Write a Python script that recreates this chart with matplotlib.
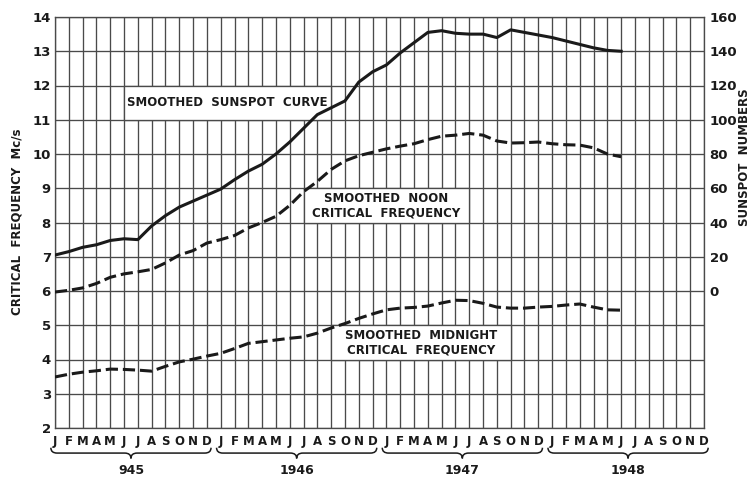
import numpy as np
import matplotlib.pyplot as plt
from matplotlib.path import Path
from matplotlib.patches import PathPatch, Rectangle
from matplotlib.transforms import blended_transform_factory

plt.rcParams['font.family'] = 'DejaVu Sans'
plt.rcParams['font.weight'] = 'bold'

# monthly smoothed values, Jan 1945 .. Jun 1948
month_letters = ['J', 'F', 'M', 'A', 'M', 'J', 'J', 'A', 'S', 'O', 'N', 'D']
years = ['945', '1946', '1947', '1948']

sunspots = [21, 23, 25.5, 27, 29.5, 30.5, 30, 38, 44, 49, 52.5, 56,
            59.5, 65, 70, 74, 80, 87, 95, 103, 107, 111, 122, 128,
            132, 139, 145, 151, 152, 150.5, 150, 150, 148, 152.5, 151, 149.5,
            148, 146, 144, 142, 140.5, 140]

noon_fc = [5.97, 6.02, 6.09, 6.22, 6.40, 6.50, 6.56, 6.63, 6.82, 7.05, 7.18, 7.40,
           7.50, 7.62, 7.84, 8.00, 8.18, 8.50, 8.90, 9.20, 9.55, 9.80, 9.95, 10.05,
           10.15, 10.23, 10.30, 10.42, 10.52, 10.55, 10.60, 10.55, 10.38, 10.32, 10.33, 10.35,
           10.30, 10.27, 10.26, 10.18, 10.00, 9.92]

midnight_fc = [3.49, 3.57, 3.63, 3.67, 3.72, 3.71, 3.69, 3.66, 3.80, 3.93, 4.01, 4.10,
               4.18, 4.32, 4.47, 4.52, 4.57, 4.62, 4.66, 4.77, 4.92, 5.05, 5.20, 5.33,
               5.45, 5.50, 5.52, 5.56, 5.65, 5.73, 5.72, 5.64, 5.53, 5.50, 5.50, 5.53,
               5.55, 5.59, 5.62, 5.53, 5.45, 5.44]

n_months = 48
months = np.arange(len(sunspots))
grid_col = '#4a4a4a'
ink = '#1a1a1a'

fig = plt.figure(figsize=(7.5, 4.79), dpi=100)
ax = fig.add_axes([55 / 750, 1 - 428 / 479, 649 / 750, 411 / 479])
ax.set_xlim(0, n_months - 1)
ax.set_ylim(2, 14)

# grid: every month, every Mc/s
for m in range(n_months):
    ax.axvline(m, color=grid_col, lw=0.95, zorder=0.5)
for v in range(2, 15):
    ax.axhline(v, color=grid_col, lw=0.95, zorder=0.5)
for s in ax.spines.values():
    s.set_color(grid_col)
    s.set_linewidth(0.95)

ax.set_yticks(range(2, 15))
ax.set_yticklabels([str(v) for v in range(2, 15)], fontsize=9.5)
ax.set_xticks(range(n_months))
ax.set_xticklabels(month_letters * 4, fontsize=8.5)
ax.tick_params(length=0, pad=5, colors=ink)
ax.tick_params(axis='y', pad=3)
fig.text(17 / 750, 1 - 222 / 479, 'CRITICAL  FREQUENCY  Mc/s', rotation=90,
         ha='center', va='center', fontsize=8.5, color=ink)

# white label boxes sitting in the grid cells
def label_box(x0, x1, y0, y1, text):
    ax.add_patch(Rectangle((x0, y0), x1 - x0, y1 - y0, facecolor='white',
                           edgecolor=grid_col, lw=0.95, zorder=1))
    ax.text((x0 + x1) / 2, (y0 + y1) / 2, text, ha='center', va='center',
            fontsize=8.5, color=ink, linespacing=1.15, zorder=1.5)

label_box(5, 20, 11, 12, 'SMOOTHED  SUNSPOT  CURVE')
label_box(18, 30, 8, 9, 'SMOOTHED  NOON\nCRITICAL  FREQUENCY')
label_box(20, 33, 4, 5, 'SMOOTHED  MIDNIGHT\nCRITICAL  FREQUENCY')

ax.plot(months, noon_fc, color=ink, lw=2.2, dashes=(4, 1.6), zorder=3)
ax.plot(months, midnight_fc, color=ink, lw=2.2, dashes=(4, 1.6), zorder=3)

# sunspot scale on the right
ax2 = ax.twinx()
ax2.set_ylim(-80, 160)
ax2.set_yticks(range(0, 161, 20))
ax2.set_yticklabels([str(v) for v in range(0, 161, 20)], fontsize=9.5)
ax2.tick_params(length=0, pad=4, colors=ink)
for s in ax2.spines.values():
    s.set_visible(False)
ax2.plot(months, sunspots, color=ink, lw=2.2, zorder=3)
fig.text(744 / 750, 1 - 157 / 479, 'SUNSPOT  NUMBERS', rotation=90,
         ha='center', va='center', fontsize=8.5, color=ink)

# year braces under the month letters
tr = blended_transform_factory(ax.transData, ax.transAxes)
yb, h, q = -0.061, 0.013, 0.45
for i, yr in enumerate(years):
    x0, x1 = 12 * i - 0.3, 12 * i + 11.3
    xm = (x0 + x1) / 2
    verts = [(x0, yb + h), (x0, yb), (x0 + q, yb),
             (xm - q, yb), (xm, yb), (xm, yb - h),
             (xm, yb), (xm + q, yb),
             (x1 - q, yb), (x1, yb), (x1, yb + h)]
    codes = [Path.MOVETO, Path.CURVE3, Path.CURVE3,
             Path.LINETO, Path.CURVE3, Path.CURVE3,
             Path.CURVE3, Path.CURVE3,
             Path.LINETO, Path.CURVE3, Path.CURVE3]
    ax.add_patch(PathPatch(Path(verts, codes), transform=tr, fill=False,
                           edgecolor=ink, lw=1.1, clip_on=False))
    ax.text(xm, -0.103, yr, transform=tr, ha='center', va='center',
            fontsize=9, color=ink)

fig.savefig('out.png', dpi=100)
